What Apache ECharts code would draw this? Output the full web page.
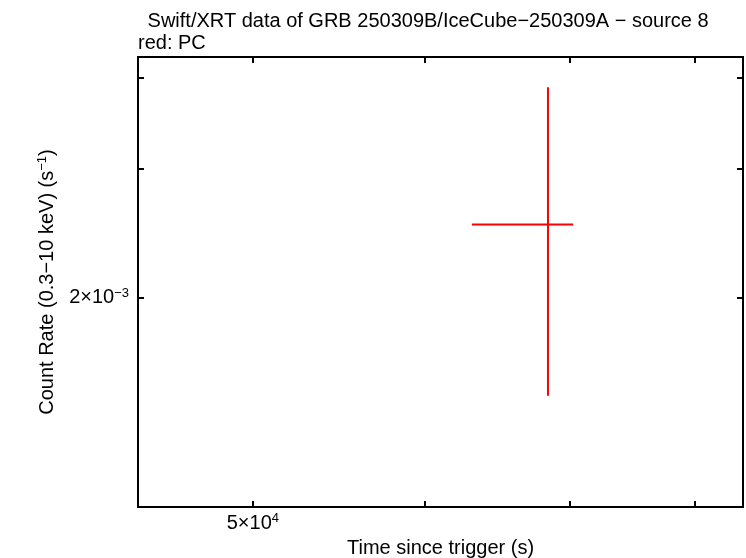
<!DOCTYPE html>
<html>
<head>
<meta charset="utf-8">
<script src="https://cdn.jsdelivr.net/npm/echarts@6/dist/echarts.min.js"></script>
<style>html,body{margin:0;padding:0;background:#fff}#c{width:746px;height:558px}</style>
</head>
<body>
<div id="c"></div>
<script>
// ---- data ----
const timeSec      = [68430];      // bin centre, s
const timeErrMinus = [5320];       // s
const timeErrPlus  = [1860];       // s
const rate         = [2.519e-3];   // count/s
const rateErrMinus = [1.052e-3];
const rateErrPlus  = [1.367e-3];

// axis ranges (real units) and ticks
const xRange = [44250, 84200];
const yRange = [1.0326e-3, 4.276e-3];
const xTickValues  = [5e4, 6e4, 7e4, 8e4];
const xLabelValues = [5e4];
const xLabelMant   = ['5'];
const xLabelExp    = ['4'];
const yTickValues  = [2e-3, 3e-3, 4e-3];
const yLabelValues = [2e-3];
const yLabelMant   = ['2'];
const yLabelExp    = ['\u22123'];

const titleText = ' Swift/XRT data of GRB 250309B/IceCube\u2212250309A \u2212 source 8';
const subText = 'red: PC';
const xName = 'Time since trigger (s)';
const yNameMain = 'Count Rate (0.3\u221210 keV) (s';
const yNameSup = '\u22121';

// ---- build ----
const L = Math.log10;
const FONT = 'Liberation Sans';
const BIG = 20;
const sup = {fontFamily: FONT, fontSize: 13, color: '#000', padding: [0, 0, 9, 0]};
const base = {fontFamily: FONT, fontSize: 20, color: '#000'};

function labelFmt(values, mant, exp) {
  return function (v) {
    for (let i = 0; i < values.length; i++) {
      if (Math.abs(L(values[i]) - v) < 1e-6) return '{a|' + mant[i] + '\u00d710}{s|' + exp[i] + '}';
    }
    return '';
  };
}

const seriesData = timeSec.map((t, i) => [
  L(t), L(rate[i]),
  L(t - timeErrMinus[i]), L(t + timeErrPlus[i]),
  L(rate[i] - rateErrMinus[i]), L(rate[i] + rateErrPlus[i])
]);

const tickStyle = {show: true, inside: true, length: 6, lineStyle: {color: '#000', width: 2}};

function xAxisDef(pos, labels) {
  return {
    type: 'value', position: pos, min: L(xRange[0]), max: L(xRange[1]),
    splitLine: {show: false}, axisLine: {show: false},
    axisTick: Object.assign({customValues: xTickValues.map(L)}, tickStyle),
    axisLabel: labels ? {
      customValues: xLabelValues.map(L), margin: 5,
      formatter: labelFmt(xLabelValues, xLabelMant, xLabelExp),
      rich: {a: base, s: sup}
    } : {show: false},
    name: labels ? xName : '', nameLocation: 'middle', nameGap: 31,
    nameTextStyle: {fontFamily: FONT, fontSize: BIG, color: '#000'}
  };
}
function yAxisDef(pos, labels) {
  return {
    type: 'value', position: pos, min: L(yRange[0]), max: L(yRange[1]),
    splitLine: {show: false}, axisLine: {show: false},
    axisTick: Object.assign({customValues: yTickValues.map(L)}, tickStyle),
    axisLabel: labels ? {
      customValues: yLabelValues.map(L), margin: 9,
      formatter: labelFmt(yLabelValues, yLabelMant, yLabelExp),
      rich: {a: base, s: sup}
    } : {show: false},
    name: labels ? '{a|' + yNameMain + '}{s|' + yNameSup + '}{a|)}' : '',
    nameLocation: 'middle', nameGap: 80, nameRotate: 90,
    nameTextStyle: {rich: {a: {fontFamily: FONT, fontSize: BIG, color: '#000'}, s: {fontFamily: FONT, fontSize: 13, color: '#000', padding: [0, 0, 9, 0]}}}
  };
}

const chart = echarts.init(document.getElementById('c'), null, {renderer: 'canvas'});
chart.setOption({
  animation: false,
  backgroundColor: '#fff',
  title: [
    {text: titleText, left: 137, top: 6, textStyle: {fontFamily: FONT, fontSize: BIG, fontWeight: 'normal', color: '#000'}},
    {text: subText, left: 133, top: 28, textStyle: {fontFamily: FONT, fontSize: BIG, fontWeight: 'normal', color: '#000'}}
  ],
  grid: {left: 138, right: 3, top: 57, bottom: 51, show: true, borderColor: '#000', borderWidth: 2,
         backgroundColor: 'transparent', outerBoundsMode: 'none', containLabel: false},
  xAxis: [xAxisDef('bottom', true), xAxisDef('top', false)],
  yAxis: [yAxisDef('left', true), yAxisDef('right', false)],
  series: [{
    type: 'custom',
    xAxisIndex: 0, yAxisIndex: 0,
    data: seriesData,
    renderItem: function (params, api) {
      const x = api.value(0), y = api.value(1);
      const pL = api.coord([api.value(2), y]);
      const pR = api.coord([api.value(3), y]);
      const pB = api.coord([x, api.value(4)]);
      const pT = api.coord([x, api.value(5)]);
      const st = {stroke: '#ff0000', lineWidth: 2};
      return {type: 'group', children: [
        {type: 'line', shape: {x1: pL[0], y1: pL[1], x2: pR[0], y2: pR[1]}, style: st},
        {type: 'line', shape: {x1: pB[0], y1: pB[1], x2: pT[0], y2: pT[1]}, style: st}
      ]};
    }
  }]
});
</script>
</body>
</html>
